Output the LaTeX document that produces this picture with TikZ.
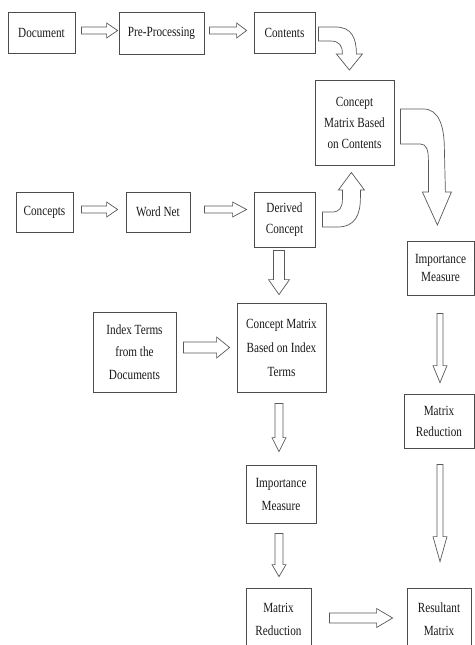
\documentclass[tikz,border=0pt]{standalone}
\usepackage{fontspec}
\setmainfont{Liberation Serif}[FakeStretch=0.8]
\usetikzlibrary{calc}
\tikzset{
  box/.style={draw=black!70, line width=0.8pt, align=center, inner sep=1pt,
    text=black!90, font=\fontsize{14}{21}\selectfont},
  barr/.style={draw=black!65, line width=0.7pt, fill=white, line join=miter},
}
% horizontal block arrow: #1 start, #2 tip (x only), #3 shaft half, #4 head half, #5 head length
\newcommand\harr[5]{%
  \draw[barr] let \p1=(#1), \p2=(#2) in
    (\x1,\y1+#3pt) -- (\x2-#5pt,\y1+#3pt) -- (\x2-#5pt,\y1+#4pt) -- (\x2,\y1)
    -- (\x2-#5pt,\y1-#4pt) -- (\x2-#5pt,\y1-#3pt) -- (\x1,\y1-#3pt) -- cycle;}
% vertical (downward) block arrow: #1 start (y only), #2 tip
\newcommand\varr[5]{%
  \draw[barr] let \p1=(#1), \p2=(#2) in
    (\x2-#3pt,\y1) -- (\x2-#3pt,\y2+#5pt) -- (\x2-#4pt,\y2+#5pt) -- (\x2,\y2)
    -- (\x2+#4pt,\y2+#5pt) -- (\x2+#3pt,\y2+#5pt) -- (\x2+#3pt,\y1) -- cycle;}
\begin{document}
\begin{tikzpicture}[x=1pt,y=-1pt]
\useasboundingbox[fill=white] (0,0) rectangle (474,645);

% boxes
\node[box, minimum width=67pt, minimum height=41pt] (doc)  at (41.5,32.5) {Document};
\node[box, minimum width=85pt, minimum height=42pt] (pre)  at (161.5,33) {Pre-Processing};
\node[box, minimum width=61pt, minimum height=41pt] (cont) at (284.5,32.5) {Contents};
\node[box, minimum width=79pt, minimum height=85pt] (cmbc) at (354.5,122.5) {Concept\\Matrix Based\\on Contents};
\node[box, minimum width=57pt, minimum height=40pt] (conc) at (44.5,212) {Concepts};
\node[box, minimum width=64pt, minimum height=40pt] (wn)   at (158,212) {Word Net};
\node[box, minimum width=61pt, minimum height=55pt] (dc)   at (284.5,219.5) {Derived\\Concept};
\node[box, minimum width=67pt, minimum height=54pt, font=\fontsize{14}{18}\selectfont] (imr) at (440.5,268) {Importance\\Measure};
\node[box, minimum width=70pt, minimum height=54pt] (mrr)  at (439,421) {Matrix\\Reduction};
\node[box, minimum width=83pt, minimum height=80pt, font=\fontsize{14}{22.5}\selectfont] (it) at (134.5,352) {Index Terms\\from the\\Documents};
\node[box, minimum width=89pt, minimum height=89pt, font=\fontsize{14}{24}\selectfont] (cmbit) at (281.5,347.5) {Concept Matrix\\Based on Index\\Terms};
\node[box, minimum width=70pt, minimum height=58pt, font=\fontsize{14}{23}\selectfont] (imm) at (281,494) {Importance\\Measure};
\node[box, minimum width=65pt, minimum height=62pt, font=\fontsize{14}{23}\selectfont] (mrm) at (278.5,619) {Matrix\\Reduction};
\node[box, minimum width=64pt, minimum height=62pt, font=\fontsize{14}{23}\selectfont] (res) at (439,619) {Resultant\\Matrix};

% straight horizontal block arrows
\harr{$(doc.east)+(6,-2)$}{$(pre.west)+(-1,0)$}{3.5}{7.5}{11}
\harr{$(pre.east)+(5,-2.5)$}{$(cont.west)+(-7,0)$}{3.5}{7.5}{10}
\harr{$(conc.east)+(8,-2.5)$}{$(wn.west)+(-8,0)$}{3.5}{7.5}{11}
\harr{$(wn.east)+(14,-2.5)$}{$(dc.west)+(-7,0)$}{3.5}{7.5}{14}
\harr{$(it.east)+(7,-4.5)$}{$(cmbit.west)+(-7,0)$}{5.5}{10.5}{13}
\harr{$(mrm.east)+(18,-1)$}{$(res.west)+(-14,0)$}{5}{9.5}{16}

% straight vertical block arrows
\varr{$(dc.south)+(0,3)$}{$(cmbit.north)+(-2.5,-8)$}{5.5}{10.5}{15}
\varr{$(cmbit.south)+(0,11)$}{$(imm.north)+(-2,-13)$}{4}{7}{14}
\varr{$(imm.south)+(0,10)$}{$(mrm.north)+(0.5,-11)$}{4}{7}{12}
\varr{$(imr.south)+(0,18)$}{$(mrr.north)+(1,-11)$}{3}{7}{17}
\varr{$(mrr.south)+(0,16)$}{$(res.north)+(1,-26)$}{3}{7}{25}

% curved block arrow: Contents -> Concept Matrix Based on Contents
\begin{scope}[shift={(cont.east)}]
\draw[barr] (3,-5.5) -- (20,-5.5) .. controls (36,-5.5) and (41,5) .. (41,21.5)
  -- (47,21.5) -- (34,37.5) -- (21,21.5) -- (27,21.5)
  .. controls (27,13) and (24,8.5) .. (15,8.5) -- (3,8.5) -- cycle;
\end{scope}

% curved block arrow: Derived Concept -> Concept Matrix Based on Contents
\begin{scope}[shift={(dc.east)}]
\draw[barr] (7,7.5) -- (22,7.5) .. controls (40,7.5) and (45,-5) .. (45,-22)
  -- (45,-29.5) -- (49,-29.5) -- (36,-47) -- (23,-29.5) -- (27,-29.5) -- (27,-20)
  .. controls (27,-12) and (24,-7.5) .. (17,-7.5) -- (7,-7.5) -- cycle;
\end{scope}

% big curved block arrow: Concept Matrix Based on Contents -> Importance Measure
\begin{scope}[shift={(cmbc.east)}]
\draw[barr] (6,-13.5) -- (29,-13.5) .. controls (44,-13.5) and (50,2.5) .. (50,27.5)
  -- (51,69.5) -- (57,69.5) -- (43,102.5) -- (28,69.5) -- (34,69.5) -- (34,37.5)
  .. controls (34,27.5) and (32,21.5) .. (26,21.5) -- (6,21.5) -- cycle;
\end{scope}
\end{tikzpicture}
\end{document}
